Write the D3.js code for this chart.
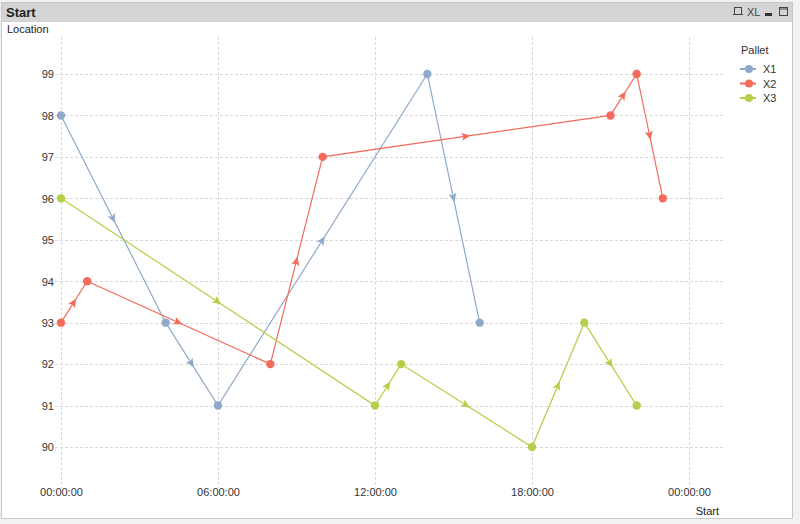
<!DOCTYPE html>
<html><head><meta charset="utf-8">
<script src="https://cdn.jsdelivr.net/npm/d3@7"></script>
<style>
html,body{margin:0;padding:0;background:#fff;}
svg{display:block;font-family:"Liberation Sans",Arial,sans-serif;}
</style></head>
<body><svg id="c" width="800" height="524"></svg>
<script>
const seriesNames = ["X1","X2","X3"];
const colors = ["#8fa9c9","#f46b5c","#b4cf4a"];
const x1Hours = [0,4,6,14,16];
const x1Values = [98,93,91,99,93];
const x2Hours = [0,1,8,10,21,22,23];
const x2Values = [93,94,92,97,98,99,96];
const x3Hours = [0,12,13,18,20,22];
const x3Values = [96,91,92,90,93,91];
const yTicks = [90,91,92,93,94,95,96,97,98,99];
const xTickHours = [0,6,12,18,24];
const xTickLabels = ["00:00:00","06:00:00","12:00:00","18:00:00","00:00:00"];

const series = [
  {name:seriesNames[0], color:colors[0], pts:x1Hours.map((h,i)=>({h, v:x1Values[i]}))},
  {name:seriesNames[1], color:colors[1], pts:x2Hours.map((h,i)=>({h, v:x2Values[i]}))},
  {name:seriesNames[2], color:colors[2], pts:x3Hours.map((h,i)=>({h, v:x3Values[i]}))}
];

const svg = d3.select("#c");
// background frame
svg.append("rect").attr("x",0).attr("y",0).attr("width",800).attr("height",524).attr("fill","#f2f2f2");
svg.append("rect").attr("x",1.5).attr("y",2.5).attr("width",791).attr("height",516).attr("fill","#fff").attr("stroke","#c8c8c8");
svg.append("rect").attr("x",2).attr("y",3).attr("width",790).attr("height",19).attr("fill","#d4d4d4");
svg.append("text").attr("x",6).attr("y",17).text("Start").attr("font-size",13).attr("font-weight","bold").attr("fill","#222");
// icons
const ic = svg.append("g").attr("fill","none").attr("stroke","#444");
ic.append("rect").attr("x",734.5).attr("y",7.5).attr("width",7).attr("height",7);
ic.append("line").attr("x1",733).attr("x2",743).attr("y1",14.5).attr("y2",14.5);
svg.append("text").attr("x",747).attr("y",16).text("XL").attr("font-size",11).attr("fill","#444");
svg.append("rect").attr("x",765).attr("y",13).attr("width",7).attr("height",3).attr("fill","#333");
ic.append("rect").attr("x",779.5).attr("y",7.5).attr("width",8).attr("height",8);
ic.append("line").attr("x1",779.5).attr("x2",787.5).attr("y1",9).attr("y2",9);

svg.append("text").attr("x",7).attr("y",33).text("Location").attr("font-size",11).attr("fill","#222");

const x = d3.scaleLinear().domain([0,24]).range([61,689]);
const y = d3.scaleLinear().domain([90,99]).range([447,74]);

const grid = svg.append("g");
grid.selectAll("line.h").data(yTicks).join("line")
  .attr("x1",55).attr("x2",725).attr("y1",d=>Math.round(y(d))+0.5).attr("y2",d=>Math.round(y(d))+0.5)
  .attr("stroke","#d9d9d9").attr("stroke-dasharray","3,2");
grid.selectAll("line.v").data(xTickHours).join("line")
  .attr("x1",d=>Math.round(x(d))+0.5).attr("x2",d=>Math.round(x(d))+0.5).attr("y1",37).attr("y2",488)
  .attr("stroke","#d9d9d9").attr("stroke-dasharray","3,2");

// axes (labels only)
const yAxis = d3.axisLeft(y).tickValues(yTicks).tickSize(0).tickPadding(0).tickFormat(d3.format("d"));
const ya = svg.append("g").attr("transform","translate(54,0)").call(yAxis);
ya.select(".domain").remove();
ya.selectAll("text").attr("font-size",11).attr("fill","#333").attr("font-family","'Liberation Sans',Arial,sans-serif").attr("dy","0.35em");

const xAxis = d3.axisBottom(x).tickValues(xTickHours).tickSize(0).tickPadding(0).tickFormat((d,i)=>xTickLabels[i]);
const xa = svg.append("g").attr("transform","translate(0,488)").call(xAxis);
xa.select(".domain").remove();
xa.selectAll("text").attr("font-size",11).attr("fill","#333").attr("font-family","'Liberation Sans',Arial,sans-serif").attr("dy","0.71em");

svg.append("text").attr("x",719).attr("y",515).attr("text-anchor","end").text("Start").attr("font-size",11).attr("fill","#222");

const line = d3.line().x(d=>x(d.h)).y(d=>y(d.v));
series.forEach(s=>{
  const g = svg.append("g");
  g.append("path").attr("d",line(s.pts)).attr("fill","none").attr("stroke",s.color).attr("stroke-width",1.2);
  // arrows at midpoints
  for(let i=0;i<s.pts.length-1;i++){
    const a=s.pts[i], b=s.pts[i+1];
    const ax=x(a.h), ay=y(a.v), bx=x(b.h), by=y(b.v);
    const mx=(ax+bx)/2, my=(ay+by)/2;
    const ang=Math.atan2(by-ay,bx-ax)*180/Math.PI;
    g.append("path").attr("d","M4,0 L-5,-4 L-3,0 L-5,4 Z")
      .attr("transform",`translate(${mx},${my}) rotate(${ang})`)
      .attr("fill",s.color);
  }
  g.selectAll("circle").data(s.pts).join("circle")
    .attr("cx",d=>x(d.h)).attr("cy",d=>y(d.v)).attr("r",4.2).attr("fill",s.color);
});

// legend
const lg = svg.append("g");
lg.append("text").attr("x",741).attr("y",54).text("Pallet").attr("font-size",11).attr("fill","#333");
series.forEach((s,i)=>{
  const yy = 69 + i*14.5;
  lg.append("line").attr("x1",740).attr("x2",756).attr("y1",yy).attr("y2",yy).attr("stroke",s.color).attr("stroke-width",2);
  lg.append("circle").attr("cx",749).attr("cy",yy).attr("r",4).attr("fill",s.color);
  lg.append("text").attr("x",763).attr("y",yy+4).text(s.name).attr("font-size",11).attr("fill","#333");
});
</script></body></html>
